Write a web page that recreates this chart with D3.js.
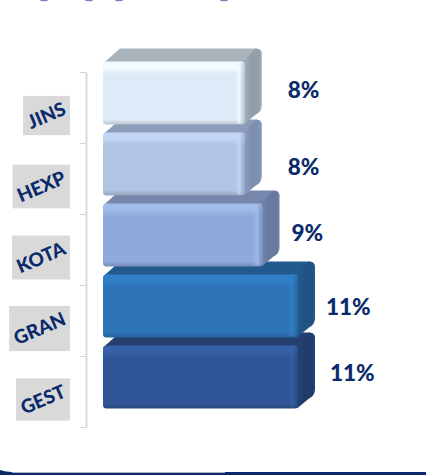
<!DOCTYPE html>
<html>
<head>
<meta charset="utf-8">
<script src="https://cdn.jsdelivr.net/npm/d3@7/dist/d3.min.js"></script>
<style>
html,body{margin:0;padding:0;background:#fff}
svg{display:block}
</style>
</head>
<body>
<svg id="chart" width="426" height="475"></svg>
<script>
// Bottom-up category order, as the stack reads from the baseline.
const categories = ["GEST", "GRAN", "KOTA", "HEXP", "JINS"];
const shares = [11, 11, 9, 8, 8];

// Palette per block: face, bevel highlight, top face, side face, lower edge.
const faceColors = ["#2f5597", "#2e74b8", "#8fa9dc", "#b0c4e3", "#deeaf7"];
const bevelColors = ["#3561a8", "#307fc6", "#a1bbea", "#c4d6f6", "#f1fcff"];
const topColors = ["#253f70", "#225a8e", "#7687ab", "#8d9cb9", "#a9b4bd"];
const sideColors = ["#213c6b", "#205383", "#66799f", "#7e8fb0", "#929fab"];
const edgeColors = ["#2a4c88", "#2a69a8", "#8097c4", "#9cadc9", "#c7d2dc"];

// Value-label placement relative to the end of each block.
const labelGaps = [15, 11, 12, 26, 26];
const labelRise = [4, -1, 2, -3, 3];

const ink = "#0b2a6b";
const font = "Lato, Carlito, 'Open Sans', sans-serif";

const svg = d3.select("#chart");
const defs = svg.append("defs");

const x = d3.scaleLinear().domain([0, 11]).range([103, 298]);
const y = d3.scaleBand().domain(categories).range([427, 72]);
const tickScale = d3.scaleLinear().domain([0, categories.length]).range([427, 72]);

const depthX = 17, depthY = 13, faceTop = -10.5, faceBottom = 52.5;
const tilt = -23;

// Axis: ticks fall on the band boundaries and carry no text of their own.
const axis = svg.append("g").attr("transform", "translate(86,0)")
  .call(d3.axisLeft(tickScale).ticks(categories.length).tickFormat("").tickSize(6).tickSizeOuter(0));
axis.select(".domain").attr("stroke", "#dcdcdc").attr("stroke-width", 2);
axis.selectAll(".tick line").attr("stroke", "#d4d4d4").attr("stroke-width", 1);

// Gradients for the bevelled faces of each block.
categories.forEach((c, i) => {
  const side = defs.append("linearGradient").attr("id", "side" + i)
    .attr("x1", 0).attr("x2", 1).attr("y1", 0).attr("y2", 0);
  side.append("stop").attr("offset", 0).attr("stop-color", d3.color(sideColors[i]).brighter(0.35));
  side.append("stop").attr("offset", 0.45).attr("stop-color", sideColors[i]);
  side.append("stop").attr("offset", 0.85).attr("stop-color", sideColors[i]);
  side.append("stop").attr("offset", 1).attr("stop-color", d3.color(sideColors[i]).brighter(0.3));

  const face = defs.append("linearGradient").attr("id", "face" + i)
    .attr("x1", 0).attr("x2", 0).attr("y1", 0).attr("y2", 1);
  face.append("stop").attr("offset", 0).attr("stop-color", bevelColors[i]);
  face.append("stop").attr("offset", 0.1).attr("stop-color", bevelColors[i]);
  face.append("stop").attr("offset", 0.2).attr("stop-color", faceColors[i]);
  face.append("stop").attr("offset", 0.92).attr("stop-color", faceColors[i]);
  face.append("stop").attr("offset", 0.97).attr("stop-color", edgeColors[i]);
  face.append("stop").attr("offset", 1).attr("stop-color", d3.color(faceColors[i]).darker(0.5));

  const right = defs.append("linearGradient").attr("id", "right" + i)
    .attr("x1", 0).attr("x2", 1).attr("y1", 0).attr("y2", 0);
  right.append("stop").attr("offset", 0).attr("stop-color", bevelColors[i]).attr("stop-opacity", 0);
  right.append("stop").attr("offset", 0.5).attr("stop-color", bevelColors[i]).attr("stop-opacity", 0.8);
  right.append("stop").attr("offset", 1).attr("stop-color", sideColors[i]).attr("stop-opacity", 0.45);
});

// Painted from the baseline upward, so each block's lower edge rests over its neighbour below.
const rows = categories.map((c, i) => ({ c, i, v: shares[i] }));
const blocks = svg.append("g").selectAll("g.block")
  .data(rows)
  .join("g").attr("class", "block");

blocks.each(function (d) {
  const g = d3.select(this);
  const left = x(0), right = x(d.v);
  const top = y(d.c) + faceTop, bottom = y(d.c) + faceBottom;
  const r = 6;

  // Upper receding face
  g.append("path")
    .attr("d", `M${left},${top + 2} L${left + depthX},${top - depthY} L${right + depthX - r},${top - depthY} Q${right + depthX},${top - depthY} ${right + depthX},${top - depthY + r} L${right},${top + 3} Z`)
    .attr("fill", topColors[d.i]);

  // Right receding face
  g.append("path")
    .attr("d", `M${right - 3},${top + 1} L${right + depthX - r},${top - depthY} Q${right + depthX},${top - depthY} ${right + depthX},${top - depthY + r} L${right + depthX},${bottom - depthY - r} Q${right + depthX},${bottom - depthY} ${right + depthX - r},${bottom - depthY + 3} L${right - 1},${bottom} Z`)
    .attr("fill", `url(#side${d.i})`);

  // Front face with soft top and bottom bevels
  g.append("rect")
    .attr("x", left).attr("y", top)
    .attr("width", right - left).attr("height", bottom - top)
    .attr("rx", 3.5).attr("ry", 3.5)
    .attr("fill", `url(#face${d.i})`);

  // Front face's right bevel
  g.append("rect")
    .attr("x", right - 10).attr("y", top + 1)
    .attr("width", 10).attr("height", bottom - top - 2)
    .attr("rx", 3)
    .attr("fill", `url(#right${d.i})`);
});

// Value labels
blocks.append("text")
  .attr("x", d => x(d.v) + depthX + labelGaps[d.i])
  .attr("y", d => y(d.c) + (faceTop + faceBottom) / 2 - labelRise[d.i])
  .attr("dy", "0.36em")
  .attr("font-family", font)
  .attr("font-weight", 900)
  .attr("font-size", 22.5)
  .attr("fill", ink)
  .text(d => d.v + "%");

// Category tags: a grey plate sized around the tilted name.
const tags = svg.append("g").selectAll("g.tag")
  .data(rows)
  .join("g").attr("class", "tag");

tags.each(function (d) {
  const g = d3.select(this);
  const plate = g.append("rect").attr("fill", "#d9d9d9");
  const cy = y(d.c) + y.bandwidth() / 2 + 8;
  const label = g.append("text")
    .attr("text-anchor", "middle")
    .attr("dy", "0.35em")
    .attr("font-family", font)
    .attr("font-weight", 900)
    .attr("font-size", 19)
    .attr("fill", ink)
    .text(d.c);
  const len = label.node().getComputedTextLength();
  const a = Math.abs(tilt) * Math.PI / 180;
  const w = len * Math.cos(a) + 11;
  const h = len * Math.sin(a) + 24;
  plate.attr("x", 70 - w).attr("y", cy - h / 2).attr("width", w).attr("height", h);
  label.attr("transform", `translate(${70 - w / 2},${cy}) rotate(${tilt})`);
});

// Remnants of a heading running off the top edge.
const headingMarks = [40, 85, 115, 220];
svg.append("g").selectAll("ellipse")
  .data(headingMarks)
  .join("ellipse")
  .attr("cx", d => d + 4)
  .attr("cy", 0)
  .attr("rx", 4)
  .attr("ry", 1.3)
  .attr("fill", "#7486bb");

// Frame along the bottom edge
svg.append("path")
  .attr("d", "M0,470 Q6,472 12,472 L426,472 L426,475 L0,475 Z")
  .attr("fill", "#0b2a6b");
svg.append("line")
  .attr("x1", 12).attr("x2", 225).attr("y1", 472.5).attr("y2", 472.5)
  .attr("stroke", "#a9b4c8").attr("stroke-width", 1);
</script>
</body>
</html>
